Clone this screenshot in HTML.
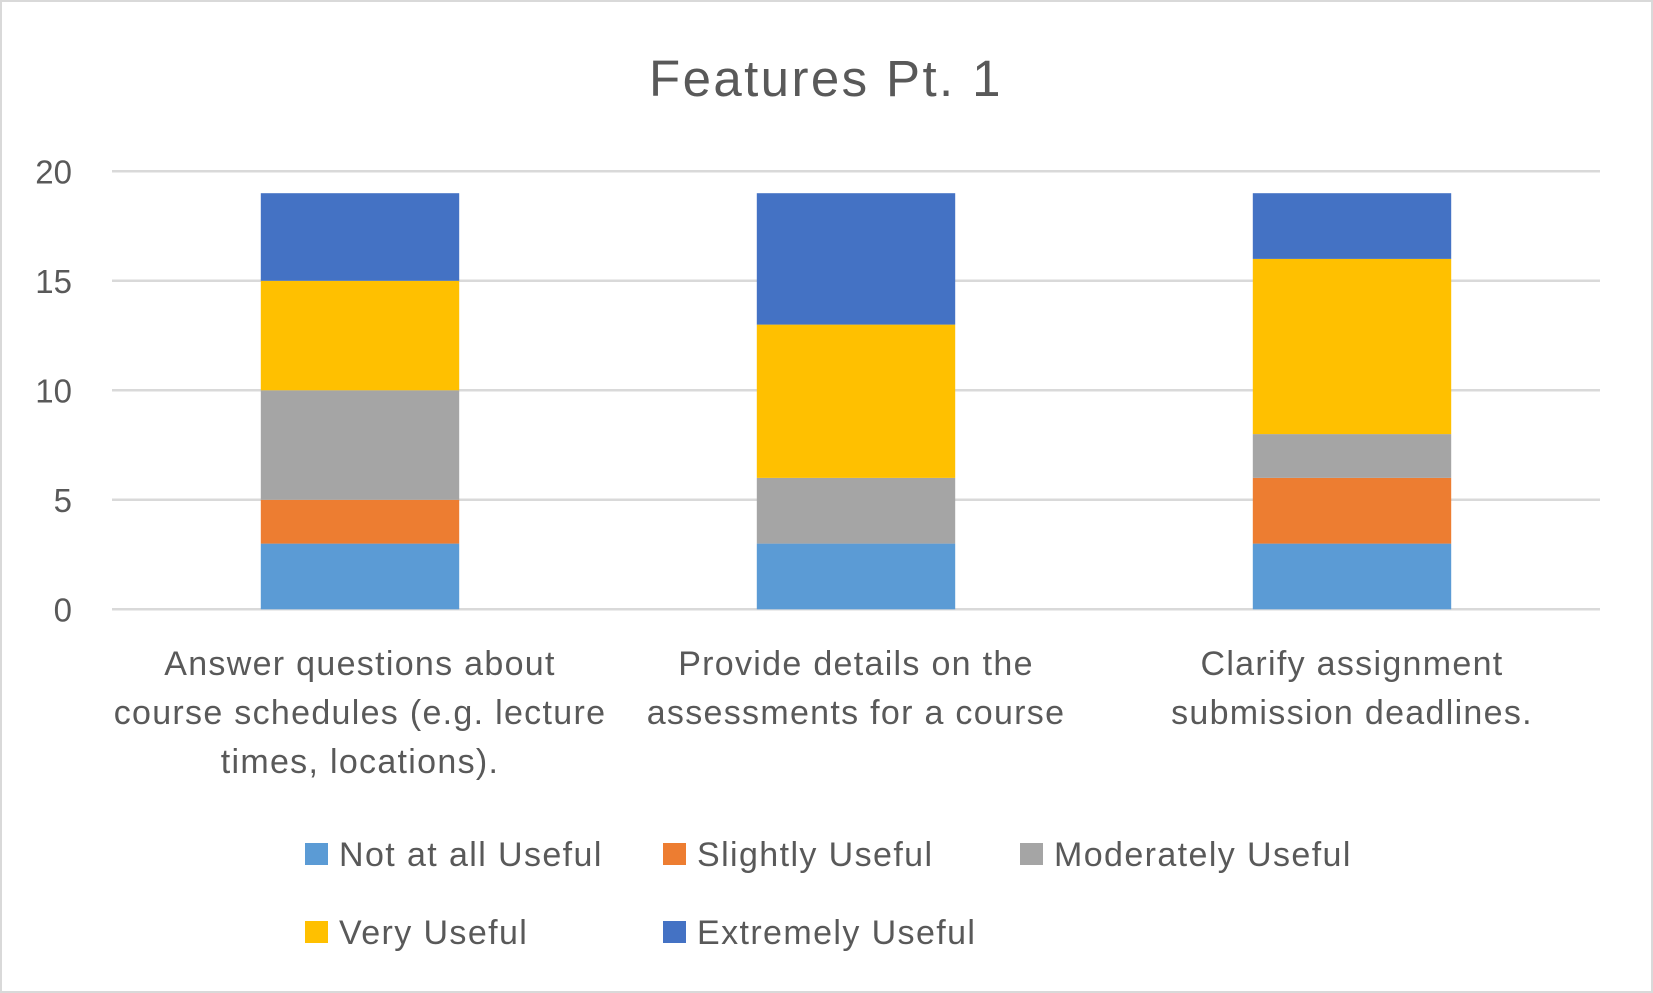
<!DOCTYPE html>
<html><head><meta charset="utf-8"><style>
body{margin:0;background:#fff}
svg{display:block;font-family:"Liberation Sans",sans-serif}
</style></head><body>
<svg id="chart" width="1653" height="993" viewBox="0 0 1653 993">
<rect x="1" y="1" width="1651" height="991" fill="#fff" stroke="#d9d9d9" stroke-width="2"/>
<text x="826" y="96" text-anchor="middle" font-size="51" letter-spacing="2.4" fill="#595959">Features Pt. 1</text>
<g id="grid"></g><g id="bars"></g><g id="labels"></g><g id="legend"></g>
</svg>
<script>
const categories=[["Answer questions about","course schedules (e.g. lecture","times, locations)."],["Provide details on the","assessments for a course"],["Clarify assignment","submission deadlines."]];
const seriesNames=["Not at all Useful","Slightly Useful","Moderately Useful","Very Useful","Extremely Useful"];
const notAtAll=[3,3,3];
const slightly=[2,0,3];
const moderately=[5,3,2];
const very=[5,7,8];
const extremely=[4,6,3];
const ticks=[0,5,10,15,20];
const colors=["#5b9bd5","#ed7d31","#a5a5a5","#ffc000","#4472c4"];
const series=[notAtAll,slightly,moderately,very,extremely];
const NS="http://www.w3.org/2000/svg";
const x0=112,x1=1600,yTop=171.3,yBot=609.3,vmax=20;
const y=v=>yBot-(v/vmax)*(yBot-yTop);
const cw=(x1-x0)/categories.length;
function mk(t,a,p){const e=document.createElementNS(NS,t);for(const k in a)e.setAttribute(k,a[k]);document.getElementById(p).appendChild(e);return e;}
ticks.forEach(t=>{
 const l=mk("line",{x1:x0,x2:x1,y1:y(t),y2:y(t),stroke:"#d9d9d9","stroke-width":2.5},"grid");
 
 
 const tx=mk("text",{x:72,y:y(t)+12,"text-anchor":"end","font-size":33,fill:"#595959"},"grid");
 tx.textContent=t;
 
 
});
categories.forEach((c,i)=>{
 const cx=x0+cw*(i+0.5),bw=cw*0.4;let acc=0;
 series.forEach((s,j)=>{
  const v=s[i];if(v>0){
   const r=mk("rect",{x:cx-bw/2,y:y(acc+v),width:bw,height:y(acc)-y(acc+v),fill:colors[j]},"bars");
   
   
  }
  acc+=v;
 });
 c.forEach((line,k)=>{
  const t=mk("text",{x:cx,y:675+k*49,"text-anchor":"middle","font-size":34,"letter-spacing":1.3,fill:"#595959"},"labels");
  t.textContent=line;
  
  
 });
});
const legX=[305,663,1020],legY=[854,932];
seriesNames.forEach((n,j)=>{
 const lx=legX[j%3],ly=legY[Math.floor(j/3)];
 const sq=mk("rect",{x:lx,y:ly-11,width:23,height:22,fill:colors[j]},"legend");
 
 
 const t=mk("text",{x:lx+34,y:ly+12,"font-size":34,"letter-spacing":1.4,fill:"#595959"},"legend");
 t.textContent=n;
 
 
});
</script>
</body></html>
